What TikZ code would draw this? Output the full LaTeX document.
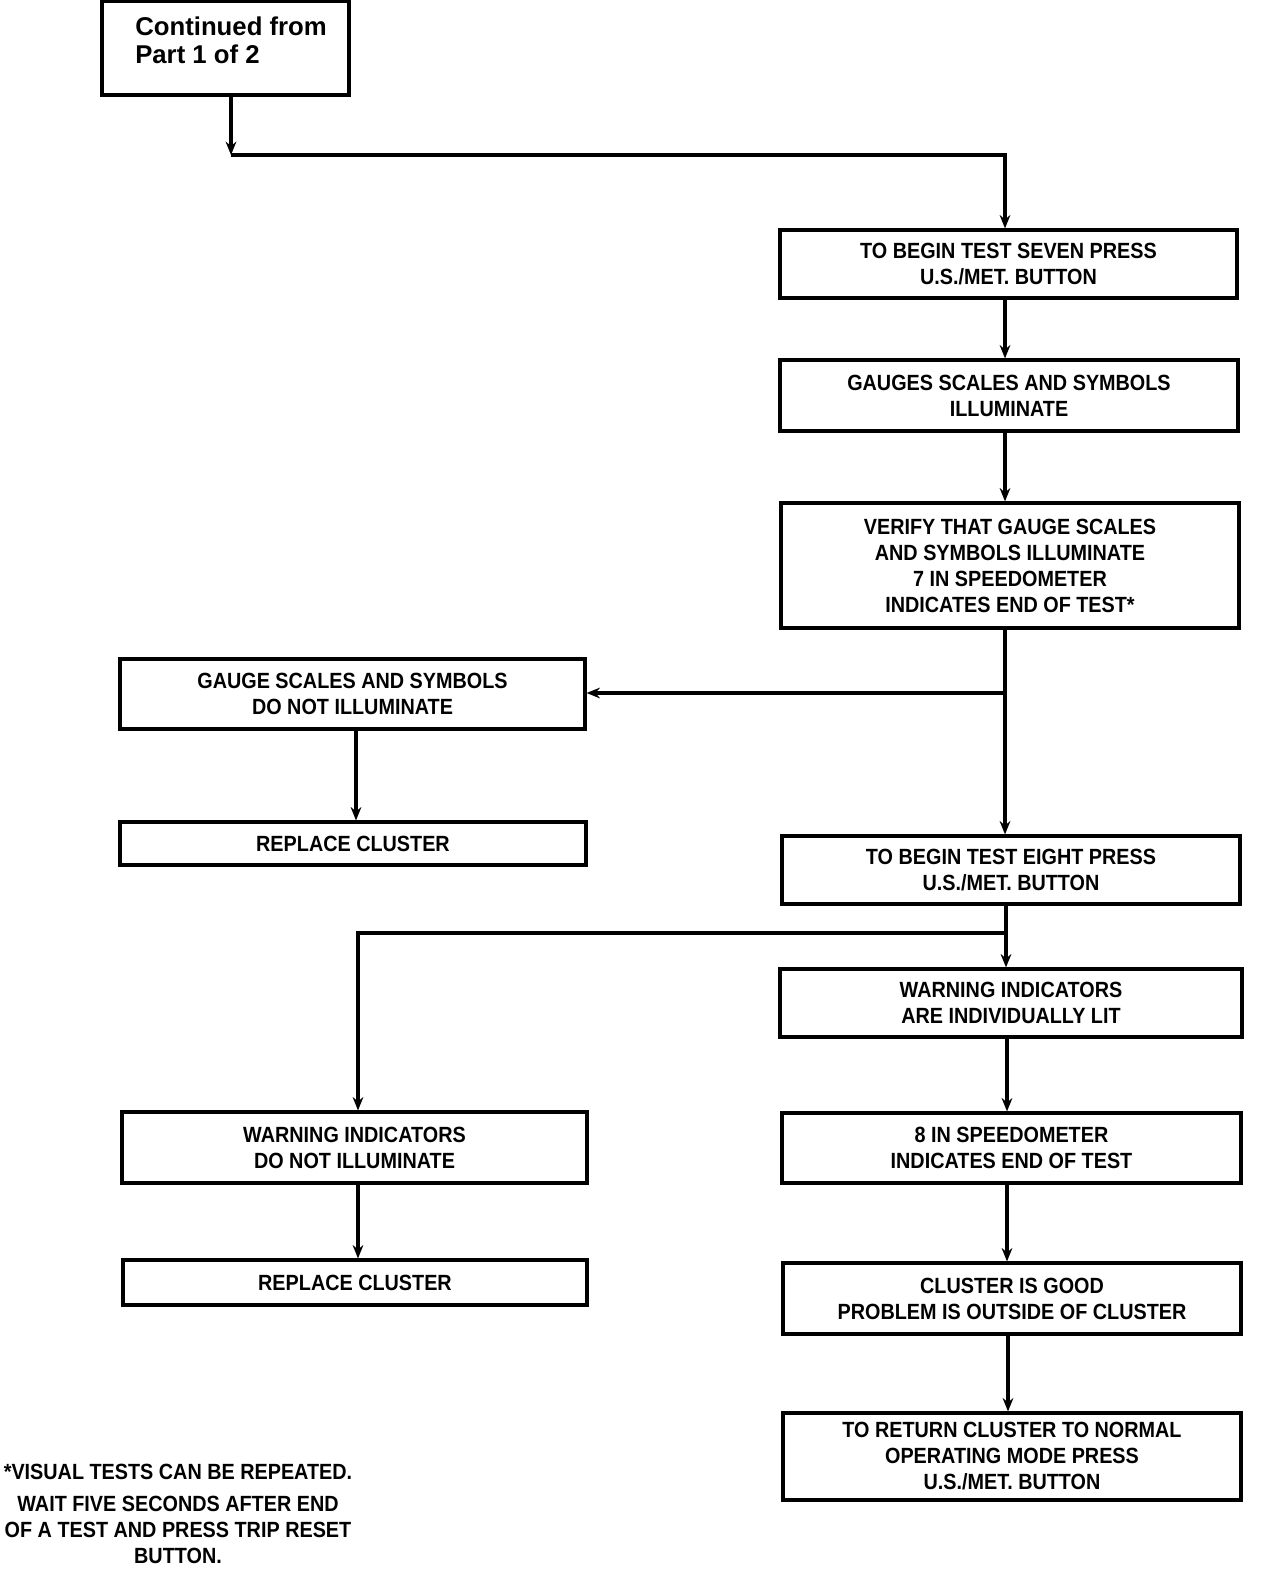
\documentclass[tikz,border=0pt]{standalone}
\usepackage{fontspec}
\setmainfont{Liberation Sans}
\newfontfamily\boxfont[FakeStretch=0.9]{Liberation Sans}
\usetikzlibrary{arrows.meta}
\begin{document}
\begin{tikzpicture}[x=0.75pt,y=-0.75pt,
  lw/.style={line width=2.4pt},
  bx/.style={draw,lw,minimum height=#1*0.75pt,inner sep=0pt,align=center,font=\boxfont\bfseries\fontsize{16.5}{19.5}\selectfont},
  conn/.style={lw,-{Stealth[length=10pt,width=8pt]}},
  line/.style={lw}]
\useasboundingbox (0,0) rectangle (1280,1592);
% start box
\node[draw,lw,minimum width=247*0.75pt,minimum height=94*0.75pt,inner sep=0pt] (start) at (225.5,48) {};
\node[anchor=north west,align=left,inner sep=0pt,font=\bfseries\fontsize{19.3}{21}\selectfont] (starttxt) at (135,17) {Continued from\\Part 1 of 2};
% right column
\node[bx=68,minimum width=457*0.75pt] (b1) at (1008.5,264) {TO BEGIN TEST SEVEN PRESS\\U.S./MET. BUTTON};
\node[bx=71,minimum width=458*0.75pt] (b2) at (1009,395.5) {GAUGES SCALES AND SYMBOLS\\ILLUMINATE};
\node[bx=125,minimum width=458*0.75pt] (b3) at (1010,565.5) {VERIFY THAT GAUGE SCALES\\AND SYMBOLS ILLUMINATE\\7 IN SPEEDOMETER\\INDICATES END OF TEST*};
\node[bx=68,minimum width=458*0.75pt] (b4) at (1011,870) {TO BEGIN TEST EIGHT PRESS\\U.S./MET. BUTTON};
\node[bx=68,minimum width=462*0.75pt] (b5) at (1011,1003) {WARNING INDICATORS\\ARE INDIVIDUALLY LIT};
\node[bx=70,minimum width=459*0.75pt] (b6) at (1011.5,1148) {8 IN SPEEDOMETER\\INDICATES END OF TEST};
\node[bx=71,minimum width=458*0.75pt] (b7) at (1012,1298.5) {CLUSTER IS GOOD\\PROBLEM IS OUTSIDE OF CLUSTER};
\node[bx=87,minimum width=458*0.75pt] (b8) at (1012,1456.5) {TO RETURN CLUSTER TO NORMAL\\OPERATING MODE PRESS\\U.S./MET. BUTTON};
% left column
\node[bx=70,minimum width=465*0.75pt] (l1) at (352.5,694) {GAUGE SCALES AND SYMBOLS\\DO NOT ILLUMINATE};
\node[bx=43,minimum width=466*0.75pt] (l2) at (353,843.5) {REPLACE CLUSTER};
\node[bx=71,minimum width=465*0.75pt] (l3) at (354.5,1147.5) {WARNING INDICATORS\\DO NOT ILLUMINATE};
\node[bx=45,minimum width=464*0.75pt] (l4) at (355,1282.5) {REPLACE CLUSTER};
% footnote
\node[align=center,inner sep=0pt,font=\boxfont\bfseries\fontsize{16.5}{19.5}\selectfont] (fn1) at (178,1472) {*VISUAL TESTS CAN BE REPEATED.};
\node[align=center,inner sep=0pt,anchor=north,font=\boxfont\bfseries\fontsize{16.5}{19.5}\selectfont] (fn2) at (178,1496) {WAIT FIVE SECONDS AFTER END\\OF A TEST AND PRESS TRIP RESET\\BUTTON.};
% connectors
\coordinate (j0) at (231,155);
\coordinate (j0r) at (1005,155);
\coordinate (j1) at (1005,693);
\coordinate (j2) at (1006,933);
\coordinate (j2l) at (358,933);
\draw[conn] (start.south -| j0) -- (j0);
\draw[conn] (j0) -- (j0r) -- (b1.north -| j0r);
\draw[conn] (b1.south -| j0r) -- (b2.north -| j0r);
\draw[conn] (b2.south -| j0r) -- (b3.north -| j0r);
\draw[conn] (b3.south -| j1) -- (b4.north -| j1);
\draw[conn] (j1) -- (l1.east |- j1);
\draw[conn] (l1.south -| 356,0) -- (l2.north -| 356,0);
\draw[conn] (b4.south -| j2) -- (b5.north -| j2);
\draw[conn] (j2) -- (j2l) -- (l3.north -| j2l);
\draw[conn] (b5.south -| 1007,0) -- (b6.north -| 1007,0);
\draw[conn] (l3.south -| j2l) -- (l4.north -| j2l);
\draw[conn] (b6.south -| 1007,0) -- (b7.north -| 1007,0);
\draw[conn] (b7.south -| 1008,0) -- (b8.north -| 1008,0);
\end{tikzpicture}
\end{document}
